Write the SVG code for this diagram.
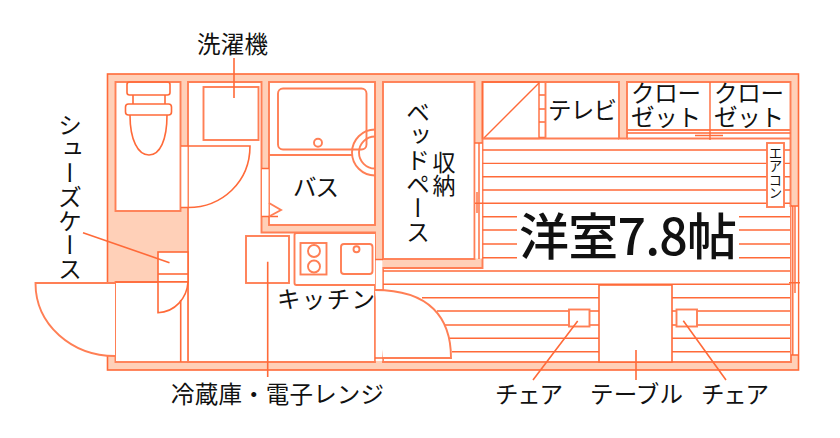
<svg xmlns="http://www.w3.org/2000/svg" width="840" height="438" viewBox="0 0 840 438">
<style>
.l{fill:none;stroke:#ff6a39;stroke-width:1.4}
.s{fill:none;stroke:#ff6a39;stroke-width:1.6}
.t{fill:none;stroke:#ff7f55;stroke-width:1.9}
.w{fill:#fff;stroke:#ff6a39;stroke-width:1.6}
.wt{fill:#fff;stroke:#ff7f55;stroke-width:1.9}
.wn{fill:#fff;stroke:none}
text{font-family:"Noto Sans CJK JP","Noto Sans",sans-serif;fill:#111}
.a{font-size:23.5px}
.v{font-size:24px;writing-mode:vertical-rl;text-orientation:upright}
</style>
<g id="building">
<rect x="107.500" y="74" width="691" height="296" fill="#ffd0b8" stroke="#ff6a39" stroke-width="1.600"/>
<rect class="wt" x="115.500" y="82" width="65" height="129"/>
<path d="M188 82H261.500V232.500H375V362H188Z" class="wt"/>
<rect class="wt" x="269" y="82" width="106" height="143"/>
<rect class="wt" x="383" y="82" width="91.500" height="177"/>
<path d="M482.500 82H619V138.500H627V82H790.500V206H791V362H383V268H482.500Z" class="wt"/>
<rect class="wt" x="115.500" y="282" width="72.500" height="80"/>
</g>
<g id="openings">
<rect class="wn" x="181.500" y="146" width="6" height="62"/>
<path class="s" d="M181 146H188M181 207.500H188"/>
<rect class="wn" x="262" y="169" width="6.500" height="47"/>
<path class="s" d="M261.500 168.500H269M261.500 216.500H278"/>
<rect class="wn" x="108.500" y="283" width="6.500" height="73"/>
<rect class="wn" x="375.800" y="259.500" width="6.500" height="101.500"/>
<path class="s" d="M375 259.500H383M375 290H383M375 358H383"/>
<rect class="wn" x="475.500" y="143" width="6.500" height="115.500"/>
<path class="l" d="M474.500 143H482.500M479 143V259M477 192V213M475 203.300H483"/>
<rect class="wn" x="791.500" y="206" width="6.300" height="149"/>
<path class="l" d="M791 206H798M792.800 206V355M795 206V293M789 282.700H800M791 355H798"/>
</g>
<g id="hatch" class="l">
<path d="M482.500 150H790M482.500 163.400H790M482.500 176.800H790M482.500 190H790M482.500 203.300H790M482.500 216.700H517M739 216.700H790M482.500 230H517M739 230H790M482.500 244H517M739 244H790M482.500 257.700H517M739 257.700H790M383 271H790M383 284.300H790M422 297.700H599M672 297.700H790M437 311H599M672 311H790M442 325H599M672 325H790M448 338.300H599M672 338.300H790M452 351.700H599M672 351.700H790"/>
</g>
<g id="entrance">
<path class="wt" d="M115 283H35.500C35.500 325 72 356 115 356"/>
<rect class="wn" x="116" y="283" width="71" height="78"/>
<rect class="w" x="158" y="252" width="30" height="30"/>
<path class="s" d="M158 274H188"/>
<path class="s" d="M115.500 282H188"/>
<path class="w" d="M158 282V312.700C175 312 187 298 188 282Z"/>
<path class="s" d="M180.700 300V362"/>
</g>
<g id="toilet" class="s">
<rect x="127" y="82" width="43" height="13" rx="2.500"/>
<path d="M133 95V104M165 95V104"/>
<rect x="125.500" y="104" width="46" height="11" rx="3"/>
<path d="M130 115C130 140 138 155 149 155C160 155 167 140 167 115"/>
</g>
<g id="washer"><rect class="wt" x="203.500" y="87" width="55" height="53"/></g>
<g id="door-toilet"><path class="s" d="M188 146H250C250 182 222 207.500 188 207.500"/></g>
<g id="bath" class="t">
<rect x="278" y="88.500" width="88.500" height="61" rx="5"/>
<path d="M269 155H353"/>
<circle cx="318" cy="142.700" r="4"/>
<path d="M375 129.500A23 23 0 0 0 375 175.500M375 136.500A16 16 0 0 0 375 168.500"/>
<path d="M269 203L281 210L269 216.500"/>
</g>
<g id="kitchen" class="t">
<rect class="wt" x="246" y="236" width="43" height="47"/>
<path class="wt" d="M375 233H296.500Q294.500 233 294.500 235V283Q294.500 285 296.500 285H375"/>
<rect x="300.500" y="243" width="26" height="31.500"/>
<circle cx="314" cy="251" r="6"/>
<circle cx="314" cy="266.500" r="6"/>
<rect x="341" y="244" width="31.500" height="30" rx="3"/>
<circle cx="356.500" cy="249.300" r="3"/>
</g>
<g id="tv-closet" class="t">
<rect class="l" x="482.500" y="82" width="56.500" height="56.500"/>
<path class="l" d="M539 83L484 138M539 95H545.500M539 109H545.500M539 122H545.500M539 137.500H545.500"/>
<path d="M545.500 82V138.500M482.500 138.500H619M627 130H790.500M627 138.500H790.500"/>
<path class="l" d="M627 133H790.500M695 135.500H723M710 82V140"/>
</g>
<g id="aircon"><rect class="wt" x="767" y="143" width="17" height="64"/></g>
<g id="door-room"><path class="wt" d="M375 290C430 290 451 318 451 358H383"/></g>
<g id="table"><rect class="w" x="599" y="285" width="73" height="77"/></g>
<g id="chair-l"><rect class="wt" x="569" y="309.500" width="20.500" height="17"/></g>
<g id="chair-r"><rect class="wt" x="676.500" y="309.500" width="20.500" height="17"/></g>
<g id="connectors" class="s">
<path d="M234 58V98M83 232.700L169.500 262.700M267.700 261.700V377M577.700 321L533 380M683.300 320.700L726 380M636 350V380"/>
</g>
<g id="labels">
<text class="a" x="197" y="53" textLength="71">洗濯機</text>
<text class="v" x="70" y="113">シューズケース</text>
<text class="v" x="418" y="100">ベッドペース</text>
<text class="v" x="444" y="151" style="font-size:23px">収納</text>
<text class="a" x="293" y="196" textLength="46">バス</text>
<text class="a" x="277" y="308" textLength="98">キッチン</text>
<text class="a" x="171" y="403" textLength="213">冷蔵庫・電子レンジ</text>
<text class="a" x="495" y="403" textLength="68">チェア</text>
<text class="a" x="590" y="403" textLength="93">テーブル</text>
<text class="a" x="701" y="403" textLength="68">チェア</text>
<text class="a" x="548" y="119" textLength="69">テレビ</text>
<text class="a"><tspan x="631" y="102" textLength="70">クロー</tspan><tspan x="631" y="126" textLength="70">ゼット</tspan></text>
<text class="a"><tspan x="714" y="102" textLength="70">クロー</tspan><tspan x="714" y="126" textLength="70">ゼット</tspan></text>
<text style="font-size:13.500px;writing-mode:vertical-rl;text-orientation:upright" x="775.500" y="146">エアコン</text>
<text x="519" y="255" style="font-size:50px;font-weight:500" textLength="218">洋室7.8帖</text>
</g>
</svg>
